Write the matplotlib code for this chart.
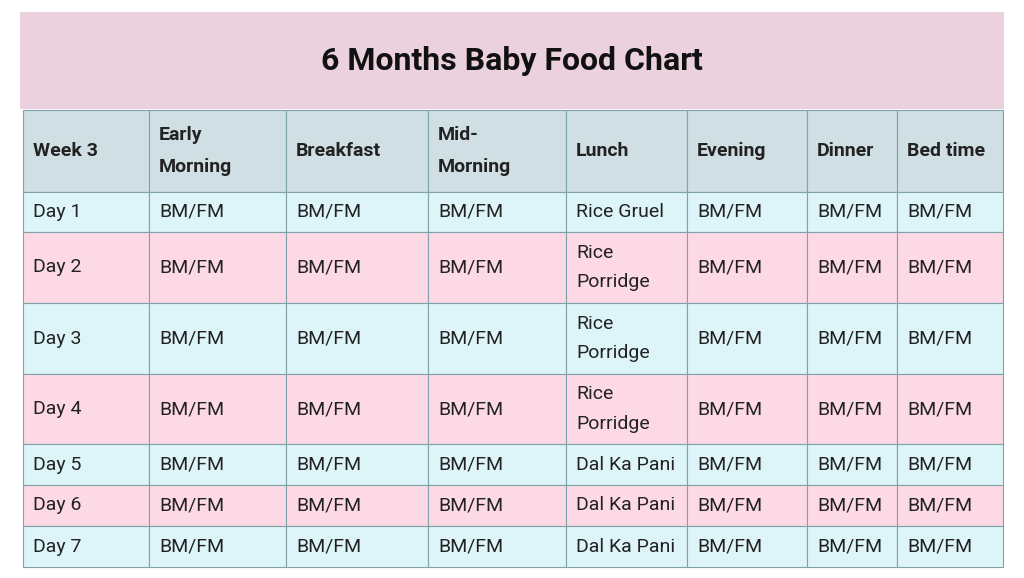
import matplotlib.pyplot as plt
from matplotlib.patches import Rectangle

title = "6 Months Baby Food Chart"
headers = ["Week 3", "Early\nMorning", "Breakfast", "Mid-\nMorning", "Lunch", "Evening", "Dinner", "Bed time"]
days = ["Day 1", "Day 2", "Day 3", "Day 4", "Day 5", "Day 6", "Day 7"]
lunch = ["Rice Gruel", "Rice\nPorridge", "Rice\nPorridge", "Rice\nPorridge",
         "Dal Ka Pani", "Dal Ka Pani", "Dal Ka Pani"]
other = "BM/FM"

# layout in pixels
col_edges = [23, 149, 286, 428, 566, 687, 807, 897, 1003]
row_edges = [110, 192, 232, 303, 374, 444, 485, 526, 567]
header_bg = "#CFDFE3"
row_bg = ["#DDF4F8", "#FCD9E5"]
line_col = "#7FA3A8"

fig = plt.figure(figsize=(10.24, 5.78), dpi=100)
ax = fig.add_axes([0, 0, 1, 1])
ax.set_xlim(0, 1024)
ax.set_ylim(578, 0)
ax.axis("off")

ax.add_patch(Rectangle((20, 12), 984, 97, facecolor="#EBD1DD", edgecolor="none"))
ax.text(512, 61, title, ha="center", va="center", fontsize=23, fontweight="bold",
        family="Roboto", color="#111111")

for r in range(len(row_edges) - 1):
    y0, y1 = row_edges[r], row_edges[r + 1]
    if r == 0:
        texts = headers
        bg = header_bg
        weight = "bold"
        ls = 1.95
    else:
        i = r - 1
        texts = [days[i]] + [other] * 3 + [lunch[i]] + [other] * 3
        bg = row_bg[i % 2]
        weight = "normal"
        ls = 1.8
    for c in range(len(col_edges) - 1):
        x0, x1 = col_edges[c], col_edges[c + 1]
        ax.add_patch(Rectangle((x0, y0), x1 - x0, y1 - y0, facecolor=bg,
                               edgecolor=line_col, linewidth=0.8))
        ax.text(x0 + 10, (y0 + y1) / 2, texts[c], ha="left", va="center",
                fontsize=14, fontweight=weight, family="Roboto",
                color="#222222", linespacing=ls)

fig.savefig("out.png", dpi=100)
